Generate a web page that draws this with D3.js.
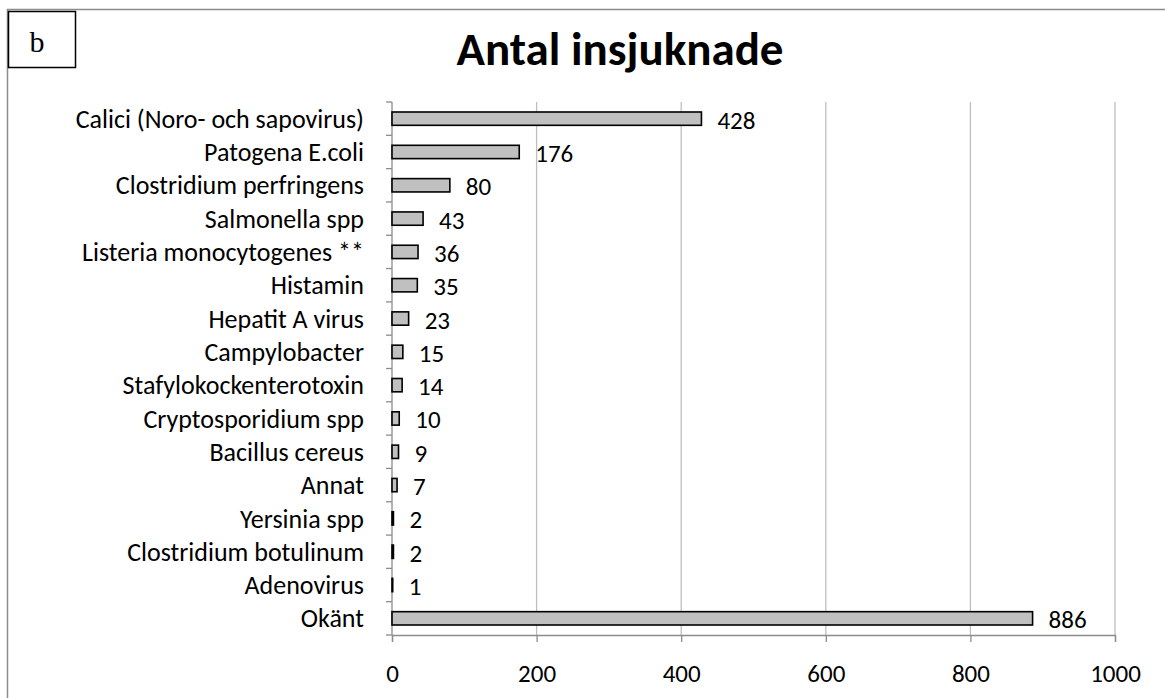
<!DOCTYPE html>
<html>
<head>
<meta charset="utf-8">
<script src="https://cdn.jsdelivr.net/npm/d3@7"></script>
<style>
  body { margin: 0; background: #fff; }
  svg { display: block; font-family: Carlito, "Open Sans", "Liberation Sans", sans-serif; }
</style>
</head>
<body>
<script>
// data
var categories = [
	"Calici (Noro- och sapovirus)", "Patogena E.coli ", "Clostridium perfringens",
	"Salmonella spp", "Listeria monocytogenes **", "Histamin", "Hepatit A virus",
	"Campylobacter", "Stafylokockenterotoxin", "Cryptosporidium spp",
	"Bacillus cereus", "Annat", "Yersinia spp", "Clostridium botulinum",
	"Adenovirus", "Okänt"
];
var values = [428, 176, 80, 43, 36, 35, 23, 15, 14, 10, 9, 7, 2, 2, 1, 886];
var xTicks = [0, 200, 400, 600, 800, 1000];
var title = "Antal insjuknade";
var panelLabel = "b";

var W = 1165, H = 698;
var margin = { top: 102, right: 50, bottom: 63, left: 392 },
	width = 1115 - margin.left,
	height = 635 - margin.top;

var svg = d3.select("body").append("svg")
	.attr("width", W)
	.attr("height", H);

// outer frame (top and left edge visible)
svg.append("line").attr("x1", 7).attr("x2", W).attr("y1", 9.5).attr("y2", 9.5)
	.attr("stroke", "#8c8c8c").attr("stroke-width", 1.5);
svg.append("line").attr("x1", 7.5).attr("x2", 7.5).attr("y1", 9).attr("y2", H)
	.attr("stroke", "#8c8c8c").attr("stroke-width", 1.5);

// panel letter box
svg.append("rect").attr("x", 8.5).attr("y", 11.5).attr("width", 67).attr("height", 56)
	.attr("fill", "#fff").attr("stroke", "#000").attr("stroke-width", 1.5);
svg.append("text").attr("x", 37).attr("y", 52)
	.attr("text-anchor", "middle")
	.style("font-family", "'Liberation Serif', 'DejaVu Serif', serif")
	.style("font-size", "30px")
	.text(panelLabel);

svg.append("text")
	.attr("x", 620).attr("y", 65)
	.attr("text-anchor", "middle")
	.style("font-size", "47px").style("font-weight", "bold")
	.text(title);

var g = svg.append("g").attr("transform", "translate(" + margin.left + "," + margin.top + ")");

var x = d3.scaleLinear().domain([0, 1000]).range([0, width]);
var y = d3.scaleBand().domain(categories).range([0, height]).paddingInner(0.6).paddingOuter(0.3);

// gridlines
g.selectAll("line.grid").data(xTicks.slice(1)).enter()
	.append("line").attr("class", "grid")
	.attr("x1", d => x(d)).attr("x2", d => x(d))
	.attr("y1", 0).attr("y2", height)
	.attr("stroke", "#bfbfbf").attr("stroke-width", 1.3);

// x axis
var xAxis = g.append("g")
	.attr("transform", "translate(0," + height + ")")
	.call(d3.axisBottom(x).tickValues(xTicks).tickFormat(d3.format("d")).tickSize(7).tickPadding(22));
xAxis.select(".domain").attr("stroke", "#8c8c8c").attr("stroke-width", 1.3);
xAxis.selectAll(".tick line").attr("stroke", "#8c8c8c").attr("stroke-width", 1.3);
xAxis.selectAll(".tick text").attr("fill", "#000")
	.style("font-size", "25px").style("font-family", "Carlito, 'Open Sans', sans-serif");

// y axis line and ticks at category boundaries
var step = height / categories.length;
g.append("line").attr("x1", 0).attr("x2", 0).attr("y1", 0).attr("y2", height)
	.attr("stroke", "#8c8c8c").attr("stroke-width", 1.3);
g.selectAll("line.ytick").data(d3.range(categories.length + 1)).enter()
	.append("line").attr("class", "ytick")
	.attr("x1", -6).attr("x2", 0)
	.attr("y1", d => d * step).attr("y2", d => d * step)
	.attr("stroke", "#8c8c8c").attr("stroke-width", 1.3);

// category labels
g.selectAll("text.cat").data(categories).enter()
	.append("text").attr("class", "cat")
	.attr("x", -28)
	.attr("y", d => y(d) + y.bandwidth() / 2)
	.attr("dy", "0.35em")
	.attr("text-anchor", "end")
	.style("font-size", "26px")
	.text(d => d);

// bars
g.selectAll("rect.bar").data(values).enter()
	.append("rect").attr("class", "bar")
	.attr("x", x(0))
	.attr("y", (d, i) => y(categories[i]))
	.attr("width", d => x(d) - x(0))
	.attr("height", y.bandwidth())
	.attr("fill", "#c0c0c0")
	.attr("stroke", "#000").attr("stroke-width", 1.6);

// value labels
g.selectAll("text.val").data(values).enter()
	.append("text").attr("class", "val")
	.attr("x", d => x(d) + 16)
	.attr("y", (d, i) => y(categories[i]) + y.bandwidth() / 2)
	.attr("dy", "0.4em")
	.style("font-size", "25px")
	.text(d => d);
</script>
</body>
</html>
